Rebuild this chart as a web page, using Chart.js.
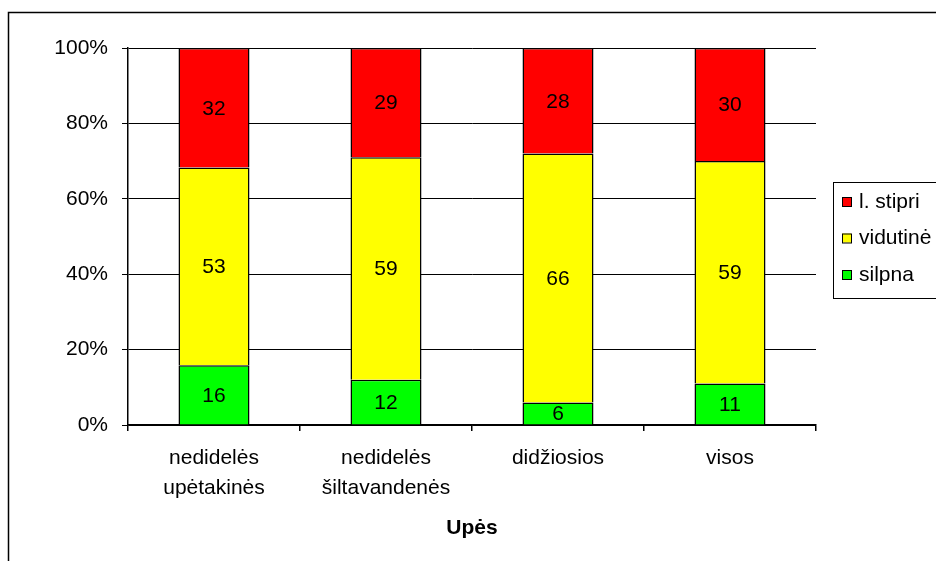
<!DOCTYPE html>
<html>
<head>
<meta charset="utf-8">
<script src="https://cdn.jsdelivr.net/npm/chart.js@4/dist/chart.umd.min.js"></script>
<style>
  html, body { margin: 0; padding: 0; background: #fff; }
  canvas { display: block; }
</style>
</head>
<body>
<canvas id="chart" width="936" height="561"></canvas>
<script>
var categories = [["nedidelės", "upėtakinės"], ["nedidelės", "šiltavandenės"], ["didžiosios"], ["visos"]];
var silpna = [16, 12, 6, 11];
var vidutine = [53, 59, 66, 59];
var stipri = [32, 29, 28, 30];
var seriesNames = ["silpna", "vidutinė", "l. stipri"];
var seriesColors = ["#00ff00", "#ffff00", "#ff0000"];
var yTicks = [0, 20, 40, 60, 80, 100];
var axisTitle = "Upės";

var FONT = "'Liberation Sans', Arial, sans-serif";
Chart.defaults.font.family = FONT;
Chart.defaults.font.size = 21;
Chart.defaults.color = "#000";

var raw = [silpna, vidutine, stipri];
var totals = categories.map((c, i) => silpna[i] + vidutine[i] + stipri[i]);

// 100% stacked: share of each category total
var datasets = raw.map((values, k) => ({
  label: seriesNames[k],
  rawValues: values,
  data: values.map((v, i) => v / totals[i] * 100),
  backgroundColor: seriesColors[k],
  borderColor: "#000",
  borderWidth: { top: 1.5, left: 1.5, right: 1.5, bottom: 0 },
  borderSkipped: false,
  categoryPercentage: 1,
  barPercentage: 0.413
}));

var frame = {
  id: "frame",
  beforeDraw(chart) {
    var ctx = chart.ctx;
    ctx.save();
    ctx.fillStyle = "#fff";
    ctx.fillRect(0, 0, chart.width, chart.height);
    ctx.strokeStyle = "#000";
    ctx.lineWidth = 1.5;
    ctx.strokeRect(8.5, 12.5, 1000, 1000);
    ctx.restore();
  }
};

var barValues = {
  id: "barValues",
  afterDatasetsDraw(chart) {
    var ctx = chart.ctx;
    ctx.save();
    ctx.font = "21px " + FONT;
    ctx.fillStyle = "#000";
    ctx.textAlign = "center";
    ctx.textBaseline = "middle";
    chart.data.datasets.forEach((ds, k) => {
      chart.getDatasetMeta(k).data.forEach((bar, i) => {
        ctx.fillText(String(ds.rawValues[i]), bar.x, (bar.y + bar.base) / 2 + 1);
      });
    });
    ctx.restore();
  }
};

var boxLegend = {
  id: "boxLegend",
  afterDraw(chart) {
    var ctx = chart.ctx;
    ctx.save();
    ctx.strokeStyle = "#000";
    ctx.lineWidth = 1;
    ctx.strokeRect(833.5, 182.5, 200, 116);
    ctx.font = "21px " + FONT;
    ctx.textAlign = "left";
    ctx.textBaseline = "middle";
    var order = chart.data.datasets.slice().reverse();
    order.forEach((ds, j) => {
      var y = 201 + j * 36.5;
      ctx.fillStyle = ds.backgroundColor;
      ctx.fillRect(842, y - 4, 9, 9);
      ctx.strokeRect(842.5, y - 3.5, 9, 9);
      ctx.fillStyle = "#000";
      ctx.fillText(ds.label, 859, y + 1);
    });
    ctx.restore();
  }
};

new Chart(document.getElementById("chart"), {
  type: "bar",
  data: {
    labels: categories,
    datasets: datasets
  },
  options: {
    responsive: false,
    animation: false,
    layout: { padding: { top: 48, right: 120, left: 0, bottom: 0 } },
    plugins: {
      legend: { display: false },
      tooltip: { enabled: false }
    },
    scales: {
      x: {
        stacked: true,
        afterFit: function(scale) { scale.height = 136; },
        grid: { offset: true, drawOnChartArea: false, drawTicks: true, tickLength: 6, color: "#000", lineWidth: 1.5 },
        border: { color: "#000", width: 1.5 },
        ticks: { padding: 12, font: { size: 21, lineHeight: 1.43 }, maxRotation: 0 },
        title: { display: true, text: axisTitle, font: { size: 21, weight: "bold" }, padding: { top: 0, bottom: 20 } }
      },
      y: {
        stacked: true,
        min: 0,
        max: 100,
        afterFit: function(scale) { scale.width = 128; },
        afterBuildTicks: function(scale) { scale.ticks = yTicks.map(v => ({ value: v })); },
        grid: { color: "#000", lineWidth: 1, tickLength: 6 },
        border: { color: "#000", width: 1.5 },
        ticks: { padding: 14, font: { size: 21 }, callback: function(value) { return value + "%"; } }
      }
    }
  },
  plugins: [frame, barValues, boxLegend]
});
</script>
</body>
</html>
